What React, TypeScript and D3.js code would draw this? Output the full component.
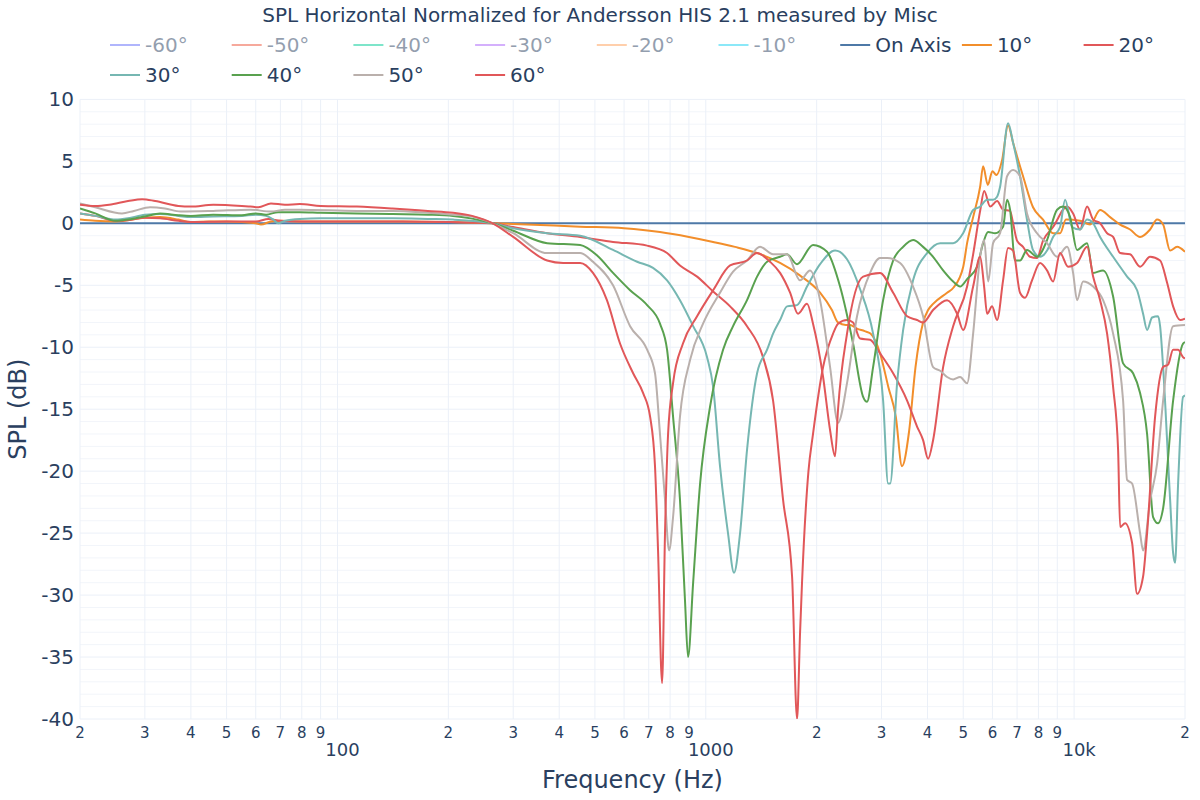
import React from "react";
import * as d3 from "d3";

const W = 1200;
const H = 800;
const titleText = "SPL Horizontal Normalized for Andersson HIS 2.1 measured by Misc";
const xTitle = "Frequency (Hz)";
const yTitle = "SPL (dB)";

const legendNames = ["-60°", "-50°", "-40°", "-30°", "-20°", "-10°", "On Axis", "10°", "20°", "30°", "40°", "50°", "60°"];
const legendColors = ["#636efa", "#EF553B", "#00cc96", "#ab63fa", "#FFA15A", "#19d3f3", "#4e79a7", "#f28e2b", "#e15759", "#76b7b2", "#59a14f", "#bab0ac", "#e15759"];
const legendHidden = [true, true, true, true, true, true, false, false, false, false, false, false, false];

const yTicks = [10, 5, 0, -5, -10, -15, -20, -25, -30, -35, -40];
const decadeTicks = [100, 1000, 10000];
const decadeLabels = ["100", "1000", "10k"];
const minorDigits = [2, 3, 4, 5, 6, 7, 8, 9];
const minorDecades = [10, 100, 1000, 10000];

const onAxis: [number, number][] = [[20, 0], [20000, 0]];

const deg10: [number, number][] = [
  [20, 0.3], [22, 0.2], [25, 0.15], [30, 0.45], [33, 0.5], [37, 0.3], [40, 0.1], [45, 0.15], [50, 0.15], [55, 0.1],
  [60, 0.0], [62, -0.1], [66, 0.15], [70, 0.2], [80, 0.15], [100, 0.15], [150, 0.15], [200, 0.1], [264, 0], [300, -0.05],
  [456, -0.27], [600, -0.4], [751, -0.7], [900, -1.1], [1047, -1.5], [1200, -1.9], [1378, -2.4], [1591, -3.2], [1800, -4.2],
  [2043, -5.6], [2200, -7.0], [2286, -8.0], [2400, -8.2], [2464, -8.2], [2574, -8.5], [2700, -8.7], [2800, -8.9], [2973, -10.5],
  [3130, -13.2], [3280, -15.6], [3410, -19.6], [3560, -16.9], [3710, -11.6], [3890, -8.0], [4013, -7.0], [4141, -6.5],
  [4520, -5.6], [4700, -5.2], [5000, -3.5], [5122, -1.6], [5319, 0.5], [5557, 2.95], [5662, 4.6], [5830, 3.1], [6000, 4.2],
  [6150, 3.9], [6374, 5.1], [6617, 7.9], [6828, 6.5], [7267, 3.8], [7734, 1.3], [8234, 0.3], [8767, -0.8], [9160, -0.8],
  [9500, 0.3], [10378, 0.2], [11050, -0.1], [11764, 1.07], [12522, 0.5], [13330, -0.1], [14189, -0.5], [15104, -1.1],
  [16078, -0.5], [16798, 0.3], [17442, -0.1], [18222, -2.2], [19036, -1.9], [20000, -2.3],
];

const deg20: [number, number][] = [
  [20, 0.8], [22, 0.6], [25, 0.2], [27, 0.25], [30, 0.45], [33, 0.4], [37, 0.2], [40, 0.1], [50, 0.15], [60, 0.15],
  [65, 0.35], [70, 0.2], [80, 0.15], [100, 0.15], [150, 0.15], [200, 0.1], [264, 0], [300, -0.3], [371, -0.8], [456, -1.1],
  [560, -1.5], [693, -1.8], [785, -2.4], [851, -3.4], [947, -4.3], [1047, -5.5], [1164, -6.7], [1294, -8.3], [1430, -10.8],
  [1523, -14.3], [1621, -22.3], [1715, -28.5], [1769, -40], [1803, -33], [1825, -29], [1900, -20], [1955, -17], [2082, -11.6],
  [2216, -8.9], [2286, -8.1], [2418, -7.8], [2511, -8.0], [2623, -9.3], [2793, -9.4], [2973, -10.5], [3226, -12.1],
  [3520, -14.3], [3746, -16.4], [3890, -17.5], [4013, -19.0], [4141, -17.5], [4409, -11.6], [4694, -8.3], [5122, -5.1],
  [5319, -2.5], [5557, 1.0], [5700, 2.6], [5914, 1.35], [6178, 1.8], [6414, 1.1], [6700, 1.0], [6828, 0], [6999, -1.4],
  [7267, -1.9], [7591, -2.7], [7930, -2.8], [8234, -1.4], [8767, -0.3], [9570, 1.35], [9936, 0.8], [10378, -0.5],
  [10844, 1.35], [11260, 0.3], [11764, 0], [12289, -0.8], [12760, -1.1], [13330, -2.4], [14189, -2.5], [15104, -3.5],
  [16078, -2.7], [17117, -3.0], [17883, -4.8], [18567, -6.7], [19397, -7.8], [20000, -7.7],
];

const deg30: [number, number][] = [
  [20, 0.8], [22, 0.6], [25, 0.3], [27, 0.4], [30, 0.7], [33, 0.75], [37, 0.6], [40, 0.5], [46, 0.55], [55, 0.6],
  [60, 0.7], [64, 0.6], [67, 0.3], [69, 0.0], [72, 0.2], [79, 0.35], [90, 0.4], [113, 0.4], [141, 0.4], [176, 0.35],
  [206, 0.3], [264, 0], [300, -0.4], [371, -0.8], [456, -1.0], [560, -2.15], [651, -3.1], [719, -3.6], [785, -4.6],
  [851, -6.2], [924, -8.3], [1008, -10.8], [1047, -13.2], [1093, -19.6], [1149, -25], [1193, -28.2], [1239, -25],
  [1294, -18.3], [1378, -12.1], [1467, -10.2], [1523, -8.9], [1591, -7.8], [1662, -6.7], [1769, -6.6], [1883, -5.1],
  [2043, -3.3], [2244, -2.2], [2418, -2.9], [2623, -5.3], [2846, -8.9], [3030, -14.3], [3126, -21], [3166, -21],
  [3307, -12.9], [3434, -8.6], [3654, -4.6], [3988, -2.4], [4327, -1.6], [4694, -1.6], [4996, -0.8], [5319, 1.07],
  [5557, 1.35], [5805, 1.9], [6026, 1.9], [6178, 2.15], [6295, 2.95], [6617, 8.07], [6828, 6.5], [7131, 3.8],
  [7450, 0.27], [7734, -2.15], [8081, -2.7], [8443, -2.2], [8767, -1.1], [9160, -0.3], [9452, 1.9], [9874, -0.3],
  [10378, -0.5], [10844, 0.3], [11260, 0], [11764, -1.1], [12760, -2.7], [13925, -4.3], [14824, -5.4], [15390, -7.3],
  [15780, -8.6], [16282, -7.6], [16903, -7.5], [17117, -8.3], [17442, -11.6], [18222, -22.3], [18567, -26.6],
  [18800, -27.4], [19156, -21], [19762, -14], [20000, -13.9],
];

const deg40: [number, number][] = [
  [20, 1.2], [22, 0.8], [25, 0.2], [27, 0.3], [30, 0.55], [33, 0.8], [37, 0.65], [40, 0.6], [46, 0.7], [55, 0.65],
  [60, 0.8], [64, 0.7], [69, 0.9], [79, 0.9], [90, 0.85], [113, 0.8], [141, 0.75], [176, 0.7], [206, 0.6], [230, 0.4],
  [264, 0], [300, -0.6], [371, -1.6], [456, -1.75], [507, -2.6], [560, -4.0], [623, -5.4], [693, -6.6], [751, -8.1],
  [785, -10.2], [815, -15.6], [851, -22.3], [878, -30.4], [895, -35], [924, -29], [965, -21], [1027, -14.8], [1114, -10.2],
  [1186, -8.3], [1294, -6.2], [1378, -4.3], [1467, -3.1], [1591, -2.7], [1662, -2.5], [1769, -3.3], [1955, -1.75],
  [2134, -2.3], [2315, -5.1], [2511, -9.7], [2674, -14], [2740, -14.4], [2846, -11.6], [3030, -6.2], [3226, -3.0],
  [3434, -1.9], [3654, -1.35], [3890, -1.9], [4141, -2.7], [4409, -3.8], [4694, -4.7], [4903, -5.1], [5122, -4.5],
  [5453, -3.5], [5662, -1.6], [5842, -0.7], [6101, -0.8], [6414, -0.27], [6576, 1.9], [6700, 1.1], [6913, -3.0],
  [7131, -3.0], [7450, -2.15], [7930, -2.7], [8443, -1.35], [8989, 1.1], [9334, 1.35], [9751, 0.5], [10186, -2.15],
  [10844, -1.6], [11260, -4.0], [11987, -3.8], [12760, -5.9], [13582, -11.3], [14458, -12.1], [15104, -13.7],
  [15780, -17], [16384, -23.7], [16903, -24.2], [17442, -23], [18567, -14.3], [19762, -9.7], [20000, -9.6],
];

const deg50: [number, number][] = [
  [20, 1.6], [22, 1.3], [26, 0.8], [28, 1.0], [31, 1.3], [34, 1.2], [37.5, 0.95], [46, 1.0], [58, 1.1], [66, 0.95],
  [72, 1.1], [79, 1.1], [113, 1.0], [141, 1.0], [176, 0.85], [206, 0.7], [232, 0.55], [264, 0], [300, -0.8], [371, -2.4],
  [456, -2.4], [494, -3.1], [560, -5.0], [623, -8.3], [693, -10.2], [728, -12.1], [751, -17], [775, -22.3], [795, -26.4],
  [815, -23.7], [851, -15.6], [907, -11], [983, -8.1], [1093, -5.6], [1186, -3.9], [1294, -3.0], [1404, -1.9],
  [1523, -2.5], [1662, -2.5], [1803, -4.6], [1919, -3.8], [2043, -6.2], [2175, -11.6], [2286, -16.1], [2418, -12.9],
  [2574, -7.5], [2793, -4.0], [2973, -2.8], [3106, -2.8], [3370, -3.2], [3654, -5.1], [3890, -7.5], [4141, -11.6],
  [4327, -11.9], [4520, -12.4], [4694, -12.6], [4903, -12.4], [5122, -12.9], [5319, -8.9], [5557, -2.7], [5697, -1.35],
  [5842, -4.7], [6026, -1.6], [6295, -0.8], [6576, 3.8], [6828, 4.3], [7131, 3.8], [7450, 0.8], [7930, -0.8],
  [8443, -1.6], [8989, -2.7], [9570, -1.9], [9936, -4.0], [10186, -6.2], [10575, -4.7], [11260, -5.1], [11987, -6.2],
  [12760, -8.9], [13582, -14.3], [13925, -20.7], [14368, -21], [15104, -25], [15390, -26.4], [16078, -22.4],
  [16798, -19.4], [17442, -14.3], [18567, -8.3], [20000, -8.2],
];

const deg60: [number, number][] = [
  [20, 1.5], [22, 1.4], [24, 1.5], [27, 1.8], [29.5, 1.95], [32, 1.8], [37, 1.4], [40, 1.35], [46, 1.5], [55, 1.4],
  [58, 1.35], [61, 1.3], [66, 1.6], [72, 1.5], [79, 1.55], [90, 1.4], [113, 1.35], [141, 1.2], [176, 1.0], [206, 0.85],
  [232, 0.6], [264, 0], [300, -1.1], [371, -3.0], [410, -3.2], [456, -3.2], [494, -4.0], [539, -6.2], [585, -9.7],
  [635, -12.1], [676, -13.7], [706, -15.6], [728, -19.6], [742, -26.4], [761, -37.1], [775, -25], [790, -17], [815, -12.9],
  [867, -9.7], [947, -7.5], [1047, -5.4], [1164, -3.4], [1294, -3.0], [1378, -2.4], [1494, -3.1], [1591, -4.0],
  [1694, -5.6], [1780, -7.3], [1883, -6.5], [1955, -8.1], [2082, -12.4], [2175, -16.7], [2244, -18.8], [2286, -15],
  [2418, -8.9], [2674, -4.3], [2973, -4.0], [3226, -5.6], [3520, -7.5], [3746, -7.8], [3890, -8.0], [4141, -7.0],
  [4520, -6.2], [4812, -7.3], [4996, -8.6], [5319, -5.1], [5557, -2.7], [5697, -5.1], [5805, -7.3], [5988, -6.7],
  [6178, -7.8], [6414, -4.6], [6617, -2.0], [6828, -2.2], [7131, -5.6], [7358, -6.0], [7686, -4.6], [8081, -3.2],
  [8443, -3.8], [8767, -4.7], [9160, -2.4], [9629, -3.5], [10186, -3.2], [10844, -1.9], [11260, -4.3], [11764, -6.2],
  [12289, -8.9], [12760, -13.2], [13165, -18.3], [13330, -24.5], [13752, -24.2], [14368, -25.8], [14824, -29.9],
  [15390, -28.5], [15780, -25], [16590, -15.6], [17442, -11.6], [17995, -11.4], [18567, -10.2], [19156, -10.2],
  [19762, -10.8], [20000, -10.9],
];

const seriesData = [onAxis, deg10, deg20, deg30, deg40, deg50, deg60];
const seriesColors = ["#4e79a7", "#f28e2b", "#e15759", "#76b7b2", "#59a14f", "#bab0ac", "#e15759"];

const FONT = '"DejaVu Sans", Verdana, sans-serif';
const TXT = "#2a3f5f";

export default function App() {
  const left = 80, right = 1185, top = 99.4, bottom = 719;
  const x = d3.scaleLog().domain([20, 20000]).range([left, right]);
  const y = d3.scaleLinear().domain([-40, 10]).range([bottom, top]);
  const line = d3
    .line<[number, number]>()
    .x((d) => x(d[0]))
    .y((d) => y(d[1]))
    .curve(d3.curveMonotoneX);

  const minorY = d3.range(-40, 11, 1).filter((v) => v % 5 !== 0);
  const minorX: { v: number; d: number }[] = [];
  minorDecades.forEach((dec) =>
    minorDigits.forEach((d) => {
      const v = d * dec;
      if (v >= 20 && v <= 20000) minorX.push({ v, d });
    })
  );

  const colW = 121.7;
  const legendX0 = 105;
  const rowY = [45, 75];

  return (
    <svg
      width={W}
      height={H}
      style={{ position: "absolute", left: 0, top: 0, background: "#fff" }}
      fontFamily={FONT}
    >
      <defs>
        <clipPath id="plotclip">
          <rect x={left} y={top} width={right - left} height={bottom - top} />
        </clipPath>
      </defs>
      <rect x={0} y={0} width={W} height={H} fill="#fff" />
      {minorY.map((v) => (
        <line key={"my" + v} x1={left} x2={right} y1={y(v)} y2={y(v)} stroke="#f2f5fa" strokeWidth={1} />
      ))}
      {minorX.map((m) => (
        <line key={"gx" + m.v} x1={x(m.v)} x2={x(m.v)} y1={top} y2={bottom} stroke="#ebf0f8" strokeWidth={1} />
      ))}
      {decadeTicks.map((v) => (
        <line key={"dx" + v} x1={x(v)} x2={x(v)} y1={top} y2={bottom} stroke="#ebf0f8" strokeWidth={1} />
      ))}
      {yTicks.map((v) => (
        <line key={"gy" + v} x1={left} x2={right} y1={y(v)} y2={y(v)} stroke="#ebf0f8" strokeWidth={1} />
      ))}
      <g clipPath="url(#plotclip)">
        {seriesData.map((s, i) => (
          <path key={"s" + i} d={line(s) || ""} fill="none" stroke={seriesColors[i]} strokeWidth={2} strokeLinejoin="round" />
        ))}
      </g>
      {yTicks.map((v) => (
        <text key={"yl" + v} x={74} y={y(v)} dy="0.35em" textAnchor="end" fontSize={20} fill={TXT}>
          {String(v)}
        </text>
      ))}
      {minorX.map((m) => (
        <text key={"xl" + m.v} x={x(m.v)} y={733} dy="0.35em" textAnchor="middle" fontSize={15} fill={TXT}>
          {String(m.d)}
        </text>
      ))}
      {decadeTicks.map((v, i) => (
        <text key={"xd" + v} x={x(v) + 5} y={750} dy="0.35em" textAnchor="middle" fontSize={18} fill={TXT}>
          {decadeLabels[i]}
        </text>
      ))}
      <text x={(left + right) / 2} y={780} dy="0.35em" textAnchor="middle" fontSize={24} fill={TXT}>
        {xTitle}
      </text>
      <text
        transform={`translate(18, ${(top + bottom) / 2}) rotate(-90)`}
        dy="0.35em"
        textAnchor="middle"
        fontSize={24}
        fill={TXT}
      >
        {yTitle}
      </text>
      <text x={600} y={15} dy="0.35em" textAnchor="middle" fontSize={20} fill={TXT}>
        {titleText}
      </text>
      {legendNames.map((name, i) => {
        const row = i < 9 ? 0 : 1;
        const col = i < 9 ? i : i - 9;
        const lx = legendX0 + col * colW;
        const ly = rowY[row];
        return (
          <g key={"lg" + i} opacity={legendHidden[i] ? 0.5 : 1}>
            <line x1={lx + 5} x2={lx + 35} y1={ly} y2={ly} stroke={legendColors[i]} strokeWidth={2} />
            <text x={lx + 40} y={ly} dy="0.35em" fontSize={20} fill={TXT}>
              {name}
            </text>
          </g>
        );
      })}
    </svg>
  );
}
